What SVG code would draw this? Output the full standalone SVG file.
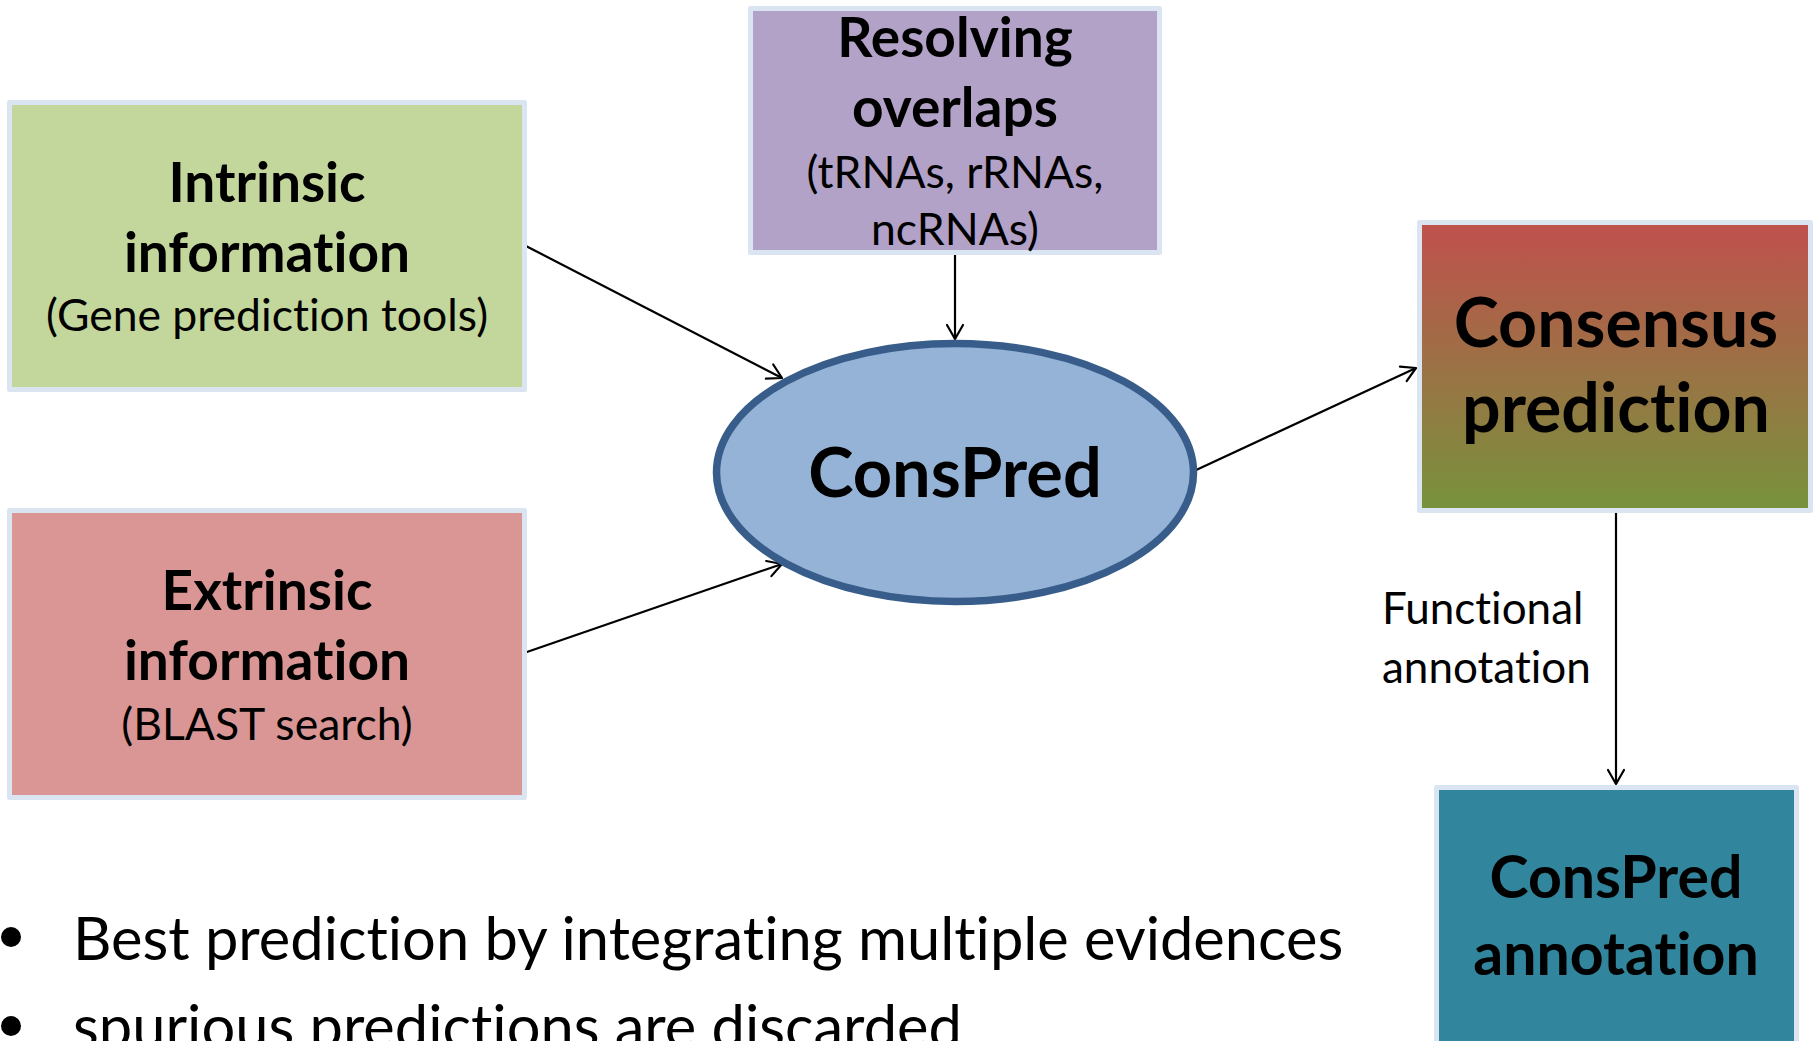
<svg xmlns="http://www.w3.org/2000/svg" width="1814" height="1041" viewBox="0 0 1814 1041">
  <style>
    text { font-variant-ligatures: none; font-feature-settings: "liga" 0, "clig" 0; }
    .box { stroke: #dbe5f1; stroke-width: 5; stroke-linejoin: round; }
    .t { font-family: Lato, "Open Sans", "Liberation Sans", sans-serif; fill: #000; text-anchor: middle; }
    .b { font-weight: bold; }
    .title { font-size: 55px; font-weight: bold; }
    .sub { font-size: 44.5px; }
    .conn { stroke: #000; stroke-width: 2.2; fill: none; marker-end: url(#arrow); }
    .note { font-family: Lato, "Open Sans", "Liberation Sans", sans-serif; fill: #000; }
  </style>
  <defs>
    <marker id="arrow" markerUnits="userSpaceOnUse" viewBox="-16 -10 18 20" refX="0" refY="0" markerWidth="18" markerHeight="20" orient="auto">
      <path d="M -14 -8 L 0 0 L -14 8" fill="none" stroke="#000" stroke-width="2.2" stroke-linecap="round" stroke-linejoin="round"/>
    </marker>
    <linearGradient id="consGrad" x1="0" y1="0" x2="0" y2="1">
      <stop offset="0" stop-color="#c0504d"/>
      <stop offset="1" stop-color="#77933c"/>
    </linearGradient>
  </defs>

  <!-- connectors -->
  <g id="connectors">
    <line class="conn" x1="524" y1="245" x2="782" y2="378"/>
    <line class="conn" x1="524" y1="653" x2="782" y2="564"/>
    <line class="conn" x1="955" y1="255" x2="955" y2="339"/>
    <line class="conn" x1="1194" y1="471" x2="1416" y2="368"/>
    <line class="conn" x1="1616" y1="512" x2="1616" y2="784"/>
  </g>

  <g id="intrinsic">
    <rect class="box" x="9.5" y="102.5" width="515" height="287" fill="#c3d69b"/>
    <text class="t title" x="267" y="202">Intrinsic</text>
    <text class="t title" x="267" y="272">information</text>
    <text class="t sub" x="267" y="331">(Gene prediction tools)</text>
  </g>

  <g id="extrinsic">
    <rect class="box" x="9.5" y="510.5" width="515" height="287" fill="#d99694"/>
    <text class="t title" x="267" y="610">Extrinsic</text>
    <text class="t title" x="267" y="680">information</text>
    <text class="t sub" x="267" y="740">(BLAST search)</text>
  </g>

  <g id="resolving">
    <rect class="box" x="750.5" y="8.5" width="409" height="244" fill="#b3a2c7"/>
    <text class="t title" x="955" y="57">Resolving</text>
    <text class="t title" x="955" y="127">overlaps</text>
    <text class="t sub" x="955" y="188">(tRNAs, rRNAs,</text>
    <text class="t sub" x="955" y="245">ncRNAs)</text>
  </g>

  <g id="conspred">
    <ellipse cx="955" cy="472.5" rx="238.5" ry="129" fill="#95b3d7" stroke="#385d8a" stroke-width="7.5"/>
    <text class="t b" x="955" y="497" font-size="68.5">ConsPred</text>
  </g>

  <g id="consensus">
    <rect class="box" x="1419.5" y="222.5" width="391" height="288" fill="url(#consGrad)"/>
    <text class="t b" x="1616" y="347" font-size="68">Consensus</text>
    <text class="t b" x="1616" y="432" font-size="68">prediction</text>
  </g>

  <g id="functional-label">
    <text class="note" x="1382" y="624" font-size="44">Functional</text>
    <text class="note" x="1382" y="683" font-size="44">annotation</text>
  </g>

  <g id="annotation">
    <rect class="box" x="1436.5" y="787.5" width="360" height="300" fill="#31859c"/>
    <text class="t b" x="1616" y="898" font-size="59">ConsPred</text>
    <text class="t b" x="1616" y="975" font-size="59">annotation</text>
  </g>

  <!-- bullet points -->
  <g id="bullets">
    <circle cx="11" cy="937" r="10" fill="#000"/>
    <text class="note" x="73" y="960" font-size="59.6">Best prediction by integrating multiple evidences</text>
    <circle cx="11" cy="1026" r="10" fill="#000"/>
    <text class="note" x="73" y="1048" font-size="59.6">spurious predictions are discarded</text>
  </g>
</svg>
